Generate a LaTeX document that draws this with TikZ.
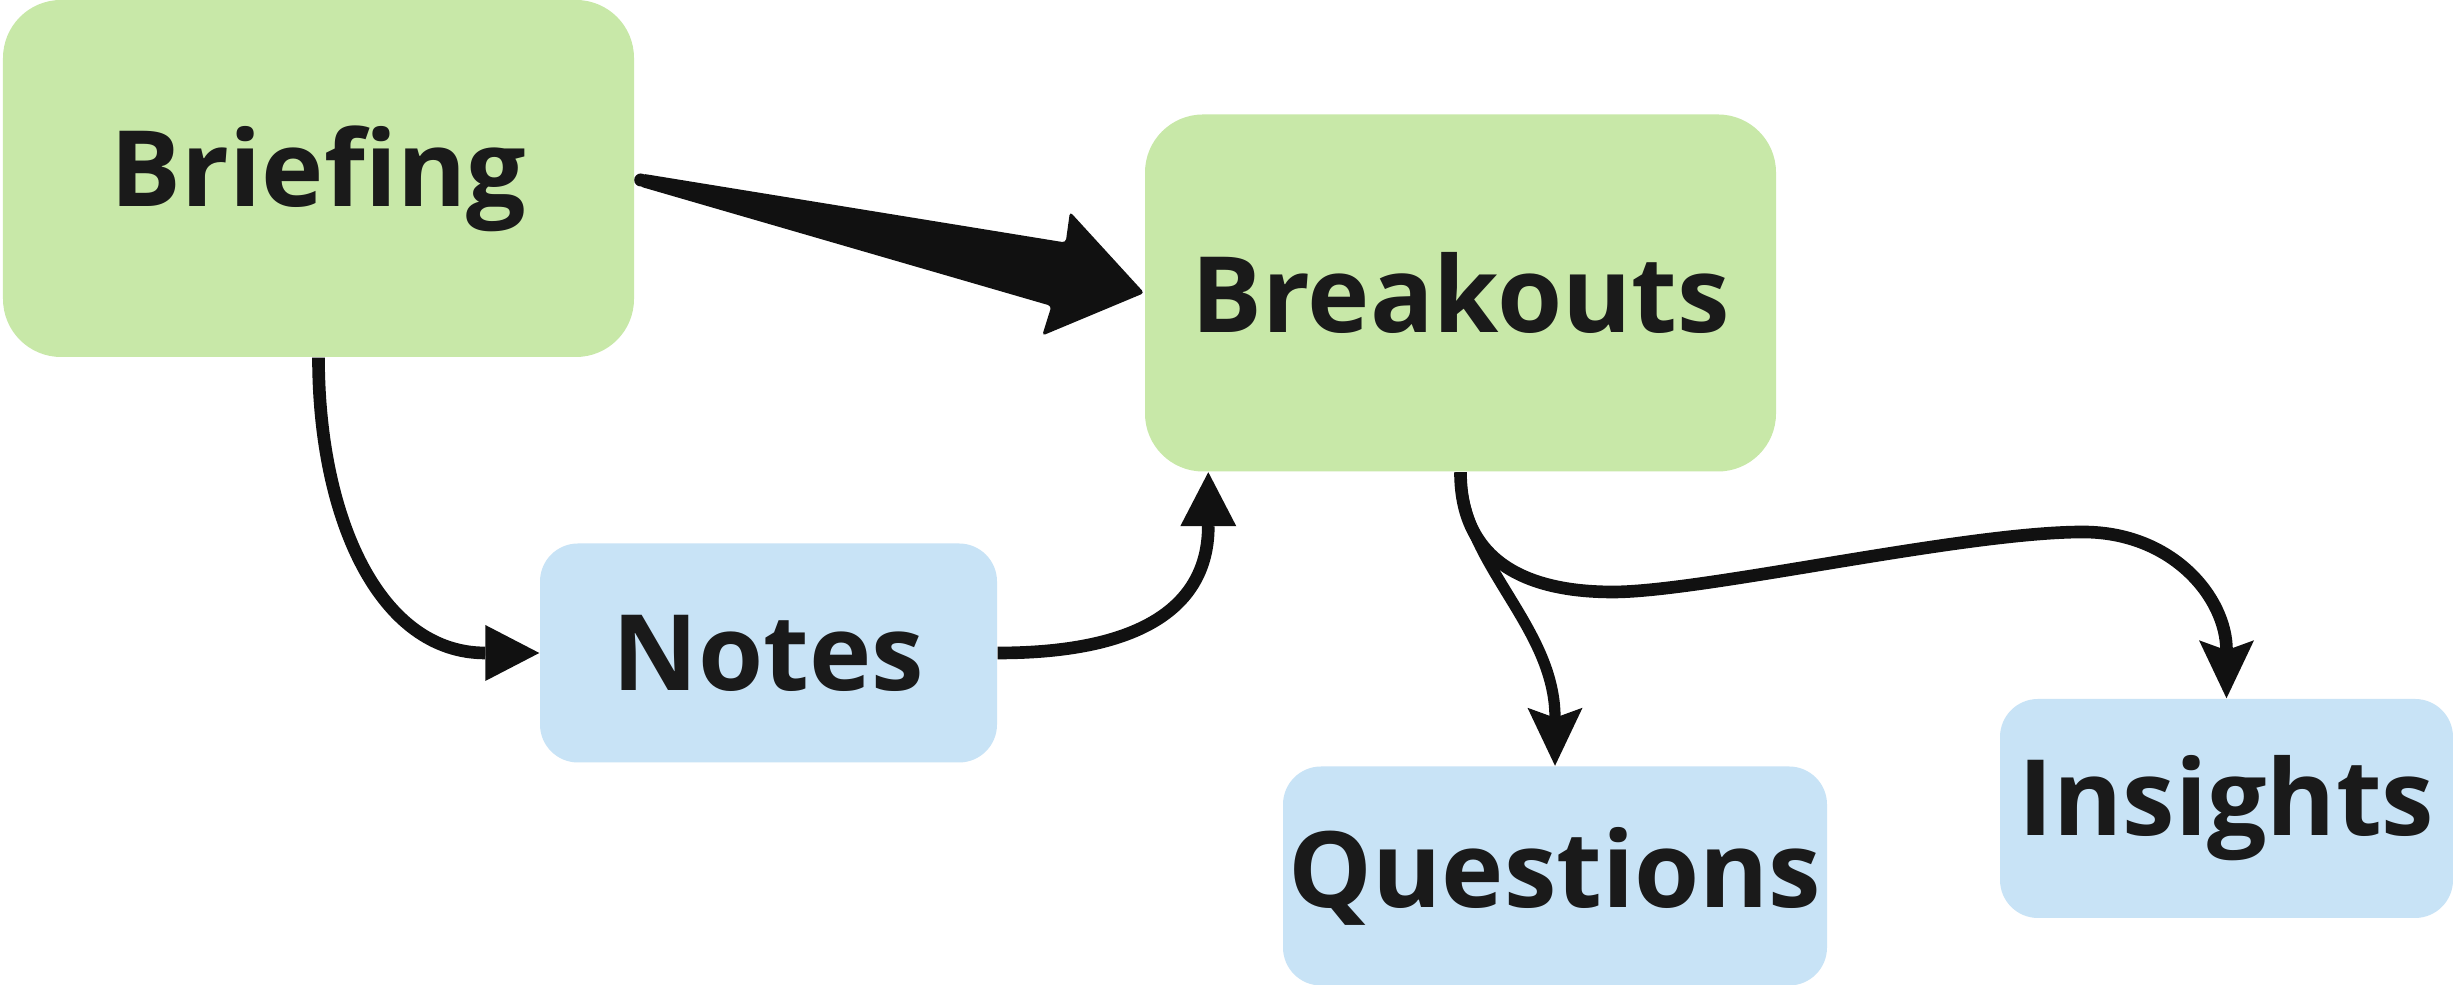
\documentclass[tikz,border=0pt]{standalone}
\usepackage{fontspec}
\setmainfont{Open Sans}
\usetikzlibrary{arrows.meta,calc}
\definecolor{boxgreen}{HTML}{C8E8A8}
\definecolor{boxblue}{HTML}{C8E3F6}
\definecolor{labelink}{HTML}{1A1A1A}
\definecolor{arrowink}{HTML}{111111}

\begin{document}
\begin{tikzpicture}[
  box/.style={inner sep=0pt,text=labelink,font=\fontsize{30}{36}\selectfont\bfseries},
  mainbox/.style={box,fill=boxgreen,rounded corners=0.58cm,minimum width=6.31cm,minimum height=3.57cm},
  sidebox/.style={box,fill=boxblue,rounded corners=0.38cm,minimum height=2.19cm},
  link/.style={color=arrowink,line width=3.6pt,-{Triangle[length=0.54cm,width=0.56cm,line width=0pt]}},
  branch/.style={color=arrowink,line width=3.6pt,-{Stealth[length=0.58cm,width=0.55cm,inset=0.1cm,line width=0pt]}}
]
% White page
\fill[white] (0,0) rectangle (24.53,9.85);
\useasboundingbox (0,0) rectangle (24.53,9.85);
% Boxes
\node[mainbox] (brief) at (3.185,8.065) {Briefing};
\node[mainbox] (brk) at (14.605,6.92) {Breakouts};
\node[sidebox,minimum width=4.57cm] (notes) at (7.685,3.32) {Notes};
\node[sidebox,minimum width=5.44cm] (quest) at (15.55,1.09) {Questions};
\node[sidebox,minimum width=4.53cm] (ins) at (22.265,1.765) {Insights};
% Tapered arrow
\coordinate (ws) at ($(brief.east)+(0.06,-0.015)$);
\coordinate (wt) at (brk.west);
\fill[arrowink] (ws) circle (0.065);
\fill[arrowink,rounded corners=1pt]
  ($(ws)!0.065cm!90:(wt)$) -- ($(ws)!0.83!(wt)!0.32cm!90:(wt)$)
  -- ($(ws)!0.825!(wt)!0.63cm!90:(wt)$) -- (wt)
  -- ($(ws)!0.825!(wt)!0.64cm!-90:(wt)$) -- ($(ws)!0.83!(wt)!0.33cm!-90:(wt)$)
  -- ($(ws)!0.065cm!-90:(wt)$) -- cycle;
% Curved links
\coordinate (brkin) at ($(brk.south west)+(0.64,0)$);
\coordinate (low) at (16.13,3.93);
\coordinate (peak) at (20.83,4.53);
\draw[link] (brief.south) .. controls +(0,-1.6) and +(-1.6,0) .. (notes.west);
\draw[link] (notes.east) .. controls +(1.5,0) and +(0,-1.3) .. (brkin);
\draw[branch,line width=3.2pt] (brk.south) .. controls +(0,-0.9) and +(0,1.4) .. (quest.north);
\draw[branch] (brk.south) .. controls +(0,-1.0) and +(-0.7,0) .. (low)
  .. controls +(0.9,0) and +(-1.2,0) .. (peak)
  .. controls +(0.9,0) and +(0,1.0) .. (ins.north);
\end{tikzpicture}
\end{document}
